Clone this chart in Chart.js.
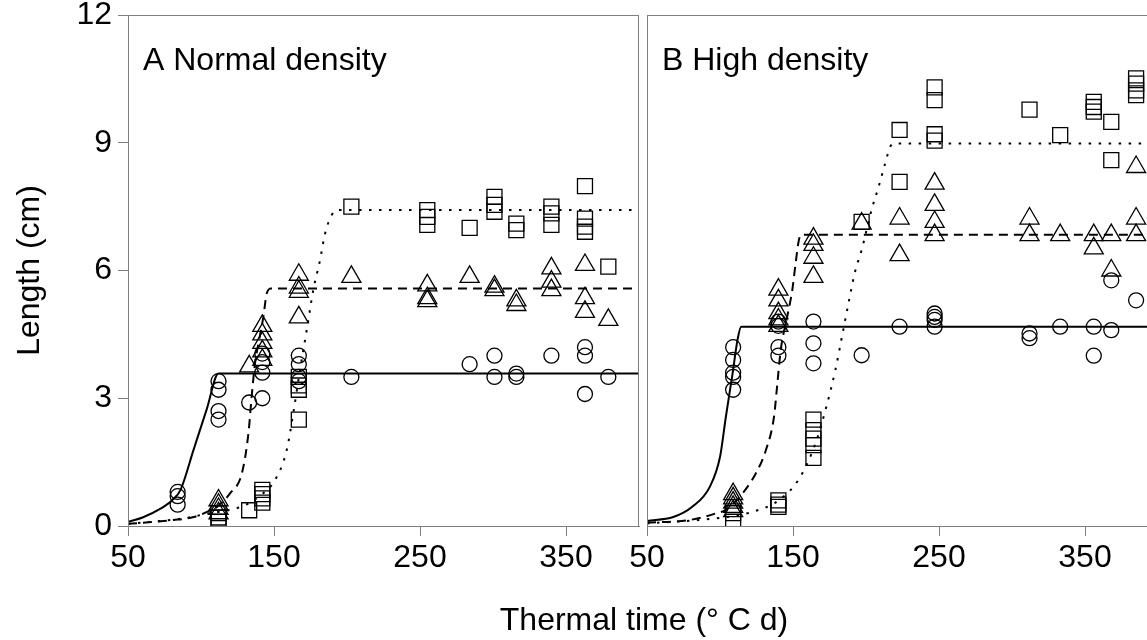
<!DOCTYPE html>
<html>
<head>
<meta charset="utf-8">
<script src="https://cdn.jsdelivr.net/npm/chart.js@4.4.1/dist/chart.umd.min.js"></script>
<style>
  html, body { margin: 0; padding: 0; background: #fff; overflow: hidden; }
  #wrap { position: relative; width: 1147px; height: 640px; overflow: hidden; }
  canvas { position: absolute; top: 0; }
  #panelA { left: 0; }
  #panelB { left: 600px; }
  #xTitle {
    position: absolute; left: 444px; width: 400px; top: 603px;
    text-align: center; font: 32px/32px "Liberation Sans", Arial, sans-serif; color: #000;
  }
</style>
</head>
<body>
<div id="wrap">
  <canvas id="panelA" width="641" height="640"></canvas>
  <canvas id="panelB" width="571" height="640"></canvas>
  <div id="xTitle">Thermal time (° C d)</div>
</div>
<script>
// axis ticks
const xTicks = [50, 150, 250, 350];
const yTicks = [0, 3, 6, 9, 12];

// ---- A: normal density ----
const normCircleX = [84, 84, 84, 112, 112, 112, 112, 133, 142, 142, 142, 142, 167, 167, 167, 167, 203, 284, 301, 301, 316, 316, 340, 363, 363, 363, 379];
const normCircleY = [0.8, 0.7, 0.5, 3.4, 3.2, 2.7, 2.5, 2.9, 4.05, 3.85, 3.6, 3.0, 4.0, 3.8, 3.5, 3.4, 3.5, 3.8, 4.0, 3.5, 3.58, 3.5, 4.0, 4.2, 4.0, 3.1, 3.5];

const normTriX = [112, 112, 112, 112, 133, 142, 142, 142, 142, 142, 167, 167, 167, 167, 203, 255, 255, 255, 284, 301, 301, 316, 316, 340, 340, 340, 363, 363, 363, 379];
const normTriY = [0.6, 0.5, 0.4, 0.3, 3.75, 4.7, 4.5, 4.3, 4.1, 3.9, 5.9, 5.6, 5.5, 4.9, 5.85, 5.65, 5.35, 5.28, 5.85, 5.62, 5.54, 5.3, 5.19, 6.05, 5.74, 5.54, 6.13, 5.35, 5.03, 4.84];

const normSqX = [112, 112, 112, 133, 142, 142, 142, 142, 167, 167, 167, 167, 203, 255, 255, 255, 284, 301, 301, 301, 316, 316, 340, 340, 340, 363, 363, 363, 363, 379];
const normSqY = [0.3, 0.2, 0.1, 0.37, 0.85, 0.75, 0.65, 0.55, 3.5, 3.3, 3.2, 2.5, 7.5, 7.42, 7.26, 7.07, 7.0, 7.73, 7.54, 7.38, 7.1, 6.95, 7.5, 7.34, 7.07, 7.98, 7.22, 7.03, 6.91, 6.09];

// fitted curves
const normSolidX = [50, 60, 72, 80, 86, 95, 104, 112, 400];
const normSolidY = [0.1, 0.2, 0.4, 0.6, 0.85, 1.8, 2.75, 3.58, 3.58];
const normDashX = [50, 81, 95, 106, 111, 120, 128, 132.5, 134.7, 137, 140, 142.7, 145, 148, 400];
const normDashY = [0.05, 0.14, 0.21, 0.36, 0.45, 0.77, 1.24, 2.18, 3.04, 3.82, 4.4, 4.91, 5.46, 5.58, 5.58];
const normDotX = [50, 88, 106, 120, 131, 140, 150.7, 158.7, 163.2, 167.8, 172.4, 176.9, 181.5, 185, 189.5, 193, 400];
const normDotY = [0.05, 0.18, 0.3, 0.38, 0.5, 0.7, 1.08, 1.78, 2.65, 3.66, 4.6, 5.54, 6.24, 6.87, 7.3, 7.42, 7.42];

// ---- B: high density ----
const highCircleX = [109, 109, 109, 109, 109, 140, 140, 140, 140, 164, 164, 164, 197, 223, 247, 247, 247, 247, 312, 312, 333, 356, 356, 368, 368, 385];
const highCircleY = [4.2, 3.9, 3.6, 3.5, 3.2, 4.8, 4.7, 4.2, 4.0, 4.8, 4.29, 3.82, 4.01, 4.68, 4.99, 4.91, 4.84, 4.68, 4.52, 4.41, 4.68, 4.68, 4.0, 5.77, 4.6, 5.3];

const highTriX = [109, 109, 109, 109, 109, 140, 140, 140, 140, 140, 164, 164, 164, 164, 197, 223, 223, 247, 247, 247, 247, 312, 312, 333, 356, 356, 368, 368, 385, 385, 385];
const highTriY = [0.75, 0.65, 0.55, 0.45, 0.35, 5.55, 5.3, 5.0, 4.85, 4.7, 6.75, 6.6, 6.3, 5.85, 7.1, 7.22, 6.36, 8.04, 7.54, 7.14, 6.83, 7.22, 6.83, 6.83, 6.83, 6.52, 6.83, 6.0, 8.43, 7.22, 6.83];

const highSqX = [109, 109, 140, 140, 140, 164, 164, 164, 164, 164, 197, 223, 223, 247, 247, 247, 247, 312, 333, 356, 356, 356, 368, 368, 385, 385, 385, 385];
const highSqY = [0.3, 0.1, 0.6, 0.5, 0.45, 2.5, 2.25, 2.05, 1.9, 1.6, 7.14, 9.3, 8.08, 10.3, 10.0, 9.2, 9.05, 9.78, 9.18, 9.96, 9.84, 9.73, 9.49, 8.59, 10.51, 10.39, 10.23, 10.12];

const highSolidX = [50, 68, 81, 93, 100, 104, 108.6, 112, 114.5, 400];
const highSolidY = [0.12, 0.21, 0.45, 0.92, 1.62, 2.56, 3.58, 4.37, 4.68, 4.68];
const highDashX = [50, 79, 97.6, 104, 115.5, 124.6, 131.4, 137, 139.3, 141.6, 146, 149.5, 151.8, 154, 155.5, 400];
const highDashY = [0.08, 0.14, 0.3, 0.38, 0.77, 1.24, 1.78, 2.57, 3.35, 4.13, 4.91, 5.54, 6.17, 6.71, 6.84, 6.84];
const highDotX = [50, 99.7, 122, 140.5, 154, 165.4, 172.2, 179, 183.5, 188, 192.7, 197, 204, 208.5, 213, 216.5, 219, 400];
const highDotY = [0.06, 0.19, 0.33, 0.61, 1.1, 1.94, 2.72, 3.66, 4.44, 5.23, 6.0, 6.48, 7.45, 7.95, 8.5, 8.9, 8.98, 8.98];

const FONT = '"Liberation Sans", Arial, sans-serif';
const AXIS_GREY = '#808080';

Chart.defaults.font.family = FONT;
Chart.defaults.font.size = 32;
Chart.defaults.color = '#000';

function pts(xs, ys) {
    return xs.map((x, i) => ({ x: x, y: ys[i] }));
}

function curve(xs, ys, dash) {
    return {
        data: pts(xs, ys),
        showLine: true,
        borderColor: '#000',
        borderWidth: 2,
        borderDash: dash,
        pointRadius: 0,
        cubicInterpolationMode: 'monotone',
        fill: false
    };
}

function marks(xs, ys, style, radius) {
    return {
        data: pts(xs, ys),
        showLine: false,
        pointStyle: style,
        pointRadius: radius,
        pointBorderWidth: 1.3,
        pointBorderColor: '#000',
        pointBackgroundColor: 'rgba(0,0,0,0)'
    };
}

// box round the plot area plus the panel label
function framePlugin(label) {
    return {
        id: 'frame',
        afterDraw(chart) {
            const ca = chart.chartArea;
            const ctx = chart.ctx;
            ctx.save();
            ctx.strokeStyle = AXIS_GREY;
            ctx.lineWidth = 1;
            ctx.strokeRect(ca.left + 0.5, ca.top + 0.5, ca.right - ca.left - 1, ca.bottom - ca.top);
            ctx.fillStyle = '#000';
            ctx.font = '32px ' + FONT;
            ctx.textBaseline = 'alphabetic';
            ctx.fillText(label, ca.left + 15, 70);
            ctx.restore();
        }
    };
}

function makePanel(id, label, datasets, yWidth, padRight, showY) {
    return new Chart(document.getElementById(id), {
        type: 'scatter',
        data: { datasets: datasets },
        options: {
            responsive: false,
            animation: false,
            devicePixelRatio: 1,
            layout: {
                autoPadding: false,
                padding: { top: 15, right: padRight, left: 0, bottom: 0 }
            },
            plugins: { legend: { display: false }, tooltip: { enabled: false } },
            scales: {
                x: {
                    type: 'linear',
                    min: 50,
                    max: 400,
                    afterBuildTicks: s => { s.ticks = xTicks.map(v => ({ value: v })); },
                    afterFit: s => {
                        s.height = 114;
                        s.paddingLeft = 0;
                        s.paddingRight = 0;
                    },
                    ticks: { padding: 3, maxRotation: 0, autoSkip: false, callback: v => String(v) },
                    grid: { display: true, drawOnChartArea: false, drawTicks: true, tickLength: 10, color: AXIS_GREY },
                    border: { display: true, color: AXIS_GREY }
                },
                y: {
                    type: 'linear',
                    min: 0,
                    max: 12,
                    afterBuildTicks: s => { s.ticks = yTicks.map(v => ({ value: v })); },
                    afterFit: s => {
                        s.width = yWidth;
                        s.paddingTop = 0;
                        s.paddingBottom = 0;
                    },
                    ticks: { display: showY, padding: 6, callback: v => String(v) },
                    grid: { display: showY, drawOnChartArea: false, drawTicks: true, tickLength: 10, color: AXIS_GREY },
                    border: { display: true, color: AXIS_GREY },
                    title: {
                        display: showY,
                        text: 'Length (cm)',
                        padding: { top: 11, bottom: 0 }
                    }
                }
            }
        },
        plugins: [framePlugin(label)]
    });
}

makePanel('panelA', 'A Normal density', [
    curve(normSolidX, normSolidY, []),
    curve(normDashX, normDashY, [9, 6]),
    curve(normDotX, normDotY, [2.5, 7.5]),
    marks(normCircleX, normCircleY, 'circle', 7.5),
    marks(normTriX, normTriY, 'triangle', 11),
    marks(normSqX, normSqY, 'rect', 10.6)
], 128, 2, true);

makePanel('panelB', 'B High density', [
    curve(highSolidX, highSolidY, []),
    curve(highDashX, highDashY, [9, 6]),
    curve(highDotX, highDotY, [2.5, 7.5]),
    marks(highCircleX, highCircleY, 'circle', 7.5),
    marks(highTriX, highTriY, 'triangle', 11),
    marks(highSqX, highSqY, 'rect', 10.6)
], 47, 13, false);
</script>
</body>
</html>
